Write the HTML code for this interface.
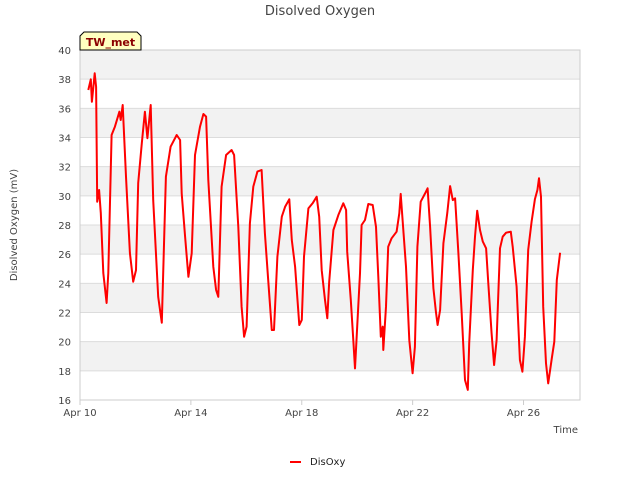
<!DOCTYPE html>
<html><head><meta charset="utf-8"><style>
body{margin:0;background:#fff;font-family:"Liberation Sans","DejaVu Sans",sans-serif;}
</style></head><body>
<svg width="640" height="480" xmlns="http://www.w3.org/2000/svg" font-family="DejaVu Sans, Liberation Sans, sans-serif">
<rect width="640" height="480" fill="#fff"/>
<g id="bands"></g>
<g id="grid"></g>
<g id="yticks"></g>
<g id="xticks"></g>
<rect x="80" y="50" width="500" height="350" fill="none" stroke="#ccc"/>
<path id="line" fill="none" stroke="#ff0000" stroke-width="2" stroke-linejoin="round"/>
<text x="320" y="15" text-anchor="middle" font-size="13" fill="#444">Disolved Oxygen</text>
<text transform="translate(17,225) rotate(-90)" text-anchor="middle" font-size="10" fill="#444">Disolved Oxygen (mV)</text>
<text x="578" y="433" text-anchor="end" font-size="10" fill="#444">Time</text>
<g>
<path d="M80,50 L80,36 L84,32 L137,32 L141,36 L141,50 Z" fill="#ffffc0" stroke="#000" stroke-width="1"/>
<text x="110.5" y="46" text-anchor="middle" font-size="11" font-weight="bold" fill="#8b0000">TW_met</text>
</g>
<g>
<line x1="290" y1="462" x2="301" y2="462" stroke="#ff0000" stroke-width="2"/>
<text x="310" y="465" font-size="10" fill="#222">DisOxy</text>
</g>
</svg>
<script>
const days=[0.30,0.39,0.43,0.53,0.58,0.62,0.69,0.75,0.84,0.96,1.02,1.14,1.26,1.42,1.47,1.54,1.66,1.80,1.92,2.02,2.10,2.23,2.34,2.43,2.55,2.64,2.82,2.95,3.10,3.27,3.49,3.61,3.67,3.79,3.91,4.03,4.15,4.33,4.45,4.55,4.63,4.81,4.91,4.99,5.11,5.27,5.47,5.56,5.71,5.83,5.92,6.01,6.13,6.25,6.40,6.55,6.67,6.79,6.92,7.00,7.12,7.28,7.40,7.55,7.64,7.76,7.91,8.00,8.08,8.24,8.39,8.54,8.63,8.72,8.84,8.92,8.99,9.14,9.32,9.50,9.60,9.64,9.77,9.86,9.92,10.00,10.10,10.16,10.28,10.40,10.56,10.68,10.76,10.85,10.92,10.94,11.04,11.12,11.24,11.42,11.52,11.57,11.64,11.76,11.88,12.00,12.08,12.17,12.29,12.45,12.54,12.63,12.75,12.84,12.90,12.99,13.11,13.25,13.35,13.45,13.53,13.65,13.77,13.89,13.99,14.04,14.17,14.25,14.33,14.43,14.53,14.65,14.73,14.85,14.94,15.03,15.15,15.25,15.37,15.54,15.61,15.75,15.87,15.96,16.05,16.17,16.29,16.41,16.50,16.56,16.63,16.71,16.81,16.89,17.02,17.11,17.20,17.32];
const disoxy=[37.26,37.99,36.45,38.40,37.48,29.60,30.40,28.82,24.71,22.65,24.71,34.17,34.74,35.77,35.20,36.23,31.31,26.08,24.11,24.91,30.88,33.60,35.77,33.95,36.23,29.71,23.08,21.30,31.31,33.37,34.17,33.83,30.17,27.20,24.45,26.06,32.80,34.74,35.61,35.43,31.09,25.14,23.54,23.08,30.63,32.80,33.14,32.80,27.88,22.40,20.34,21.03,28.12,30.63,31.66,31.77,27.43,24.23,20.80,20.80,25.83,28.57,29.25,29.76,26.97,25.14,21.14,21.49,25.83,29.14,29.49,29.94,28.57,24.91,22.86,21.60,24.11,27.66,28.69,29.49,29.03,26.17,22.86,20.11,18.17,21.03,24.69,28.00,28.34,29.44,29.37,27.88,24.45,20.34,21.03,19.43,22.40,26.51,27.09,27.54,28.80,30.13,28.23,25.14,20.11,17.83,19.65,26.51,29.60,30.17,30.52,27.88,23.66,22.06,21.14,22.17,26.74,28.84,30.67,29.71,29.83,26.06,21.94,17.37,16.69,19.89,24.91,27.20,28.98,27.66,26.86,26.40,24.00,20.57,18.40,20.11,26.40,27.20,27.47,27.54,26.51,23.77,18.74,17.94,20.34,26.29,28.23,29.76,30.40,31.20,29.94,22.40,18.52,17.14,18.86,20.00,24.23,26.10];
const yTicks=[16,18,20,22,24,26,28,30,32,34,36,38,40];
const xTickDays=[0,4,8,12,16];
const xTickLabels=["Apr 10","Apr 14","Apr 18","Apr 22","Apr 26"];
const grayBands=[[38,40],[34,36],[30,32],[26,28],[22,24],[18,20]];
const NS="http://www.w3.org/2000/svg";
function xs(d){return 80+d*27.72;}
function ys(v){return 400-(v-16)*350/24;}
function mk(t,a,p){const e=document.createElementNS(NS,t);for(const k in a)e.setAttribute(k,a[k]);document.getElementById(p).appendChild(e);return e;}
grayBands.forEach(b=>{const r=mk('rect',{x:80,y:ys(b[1]),width:500,height:ys(b[0])-ys(b[1]),fill:'#f2f2f2'},'bands');

});
yTicks.forEach(v=>{const l=mk('line',{x1:80,x2:580,y1:ys(v),y2:ys(v),stroke:'#dcdcdc'},'grid');


const t=mk('text',{x:71,y:ys(v)+4,'text-anchor':'end','font-size':10,fill:'#444'},'yticks');t.textContent=v;

});
xTickDays.forEach((d,i)=>{const l=mk('line',{x1:xs(d),x2:xs(d),y1:400,y2:405,stroke:'#ccc'},'xticks');


const t=mk('text',{x:xs(d),y:416,'text-anchor':'middle','font-size':10,fill:'#444'},'xticks');t.textContent=xTickLabels[i];

});
document.getElementById('line').setAttribute('d',days.map((d,i)=>(i?'L':'M')+xs(d).toFixed(1)+','+ys(disoxy[i]).toFixed(1)).join(' '));
</script>
</body></html>
